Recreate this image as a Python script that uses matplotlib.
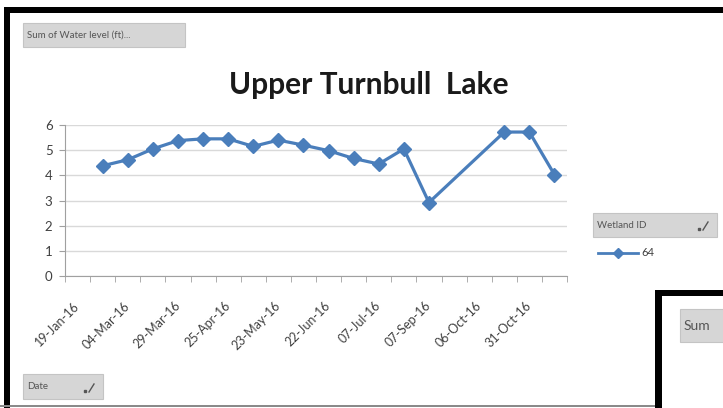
import numpy as np
import matplotlib
matplotlib.use("Agg")
import matplotlib.pyplot as plt
from matplotlib.patches import Rectangle, FancyBboxPatch
from matplotlib.lines import Line2D

# Water level readings per survey date (category axis, gaps where no reading)
tick_labels = ["19-Jan-16", "04-Mar-16", "29-Mar-16", "25-Apr-16", "23-May-16",
               "22-Jun-16", "07-Jul-16", "07-Sep-16", "06-Oct-16", "31-Oct-16"]
water_level = [np.nan, 4.38, 4.62, 5.05, 5.38, 5.45, 5.45, 5.15, 5.4, 5.2,
               4.98, 4.67, 4.45, 5.05, 2.92, np.nan, np.nan, 5.72, 5.72, 4.03]
series_name = "64"

W, H = 723, 408
BLUE = "#4a7ebb"
plt.rcParams["font.family"] = ["Lato", "DejaVu Sans"]

fig = plt.figure(figsize=(W / 100, H / 100), dpi=100)


def px(x, y, w, h):
    """pixel box (top-left origin) -> figure fraction rect"""
    return (x / W, 1 - (y + h) / H, w / W, h / H)


def add_rect(x, y, w, h, **kw):
    fx, fy, fw, fh = px(x, y, w, h)
    fig.patches.append(Rectangle((fx, fy), fw, fh, transform=fig.transFigure, **kw))


def add_button(x, y, w, h, label, size=7, icon=True):
    fx, fy, fw, fh = px(x, y, w, h)
    fig.patches.append(FancyBboxPatch((fx, fy), fw, fh, boxstyle="square,pad=0",
                                      transform=fig.transFigure, facecolor="#d6d6d6",
                                      edgecolor="#c4c4c4", linewidth=0.8))
    fig.text(fx + 4 / W, fy + fh / 2, label, fontsize=size, color="#555555",
             va="center", ha="left")
    if icon:
        ix, iy = (x + w - 14) / W, 1 - (y + h - 7) / H
        fig.add_artist(Line2D([ix, ix + 5 / W], [iy, iy + 8 / H], transform=fig.transFigure,
                              color="#555555", lw=1))
        fig.add_artist(Line2D([ix - 4 / W], [iy + 1 / H], transform=fig.transFigure,
                              color="#555555", marker="s", markersize=1.5))


# black window frames
add_rect(4, 7, W - 4, 6, facecolor="black", edgecolor="none")
add_rect(4, 7, 6, H - 7, facecolor="black", edgecolor="none")
add_rect(0, 405, 656, 2, facecolor="#8a8a8a", edgecolor="none")

# second chart peeking in at bottom right
add_rect(662, 296, W - 662, H - 296, facecolor="white", edgecolor="none")
add_rect(655, 290, W - 655, 6, facecolor="black", edgecolor="none")
add_rect(655, 290, 7, H - 290, facecolor="black", edgecolor="none")
add_button(680, 309, 50, 33, "Sum", size=10, icon=False)

ax = fig.add_axes(px(65, 125, 502, 151))
x = np.arange(len(water_level))
vals = np.array(water_level)
ok = ~np.isnan(vals)
ax.plot(x[ok], vals[ok], color=BLUE, lw=2.3, marker="D", markersize=7,
        markerfacecolor=BLUE, markeredgecolor=BLUE, zorder=3)

ax.set_xlim(-0.5, len(water_level) - 0.5)
ax.set_ylim(0, 6)
ax.set_yticks(range(7))
ax.grid(axis="y", color="#d9d9d9", lw=1)
ax.set_axisbelow(True)
for s in ["top", "right"]:
    ax.spines[s].set_visible(False)
for s in ["left", "bottom"]:
    ax.spines[s].set_color("#a0a0a0")
ax.tick_params(axis="y", length=4, color="#a0a0a0", labelsize=9.5, labelcolor="#404040", pad=5)

ax.set_xticks(x[::2], tick_labels, rotation=45, ha="right", va="center",
              rotation_mode="anchor", fontsize=9, color="#404040")
ax.set_xticks(np.arange(-0.5, len(water_level)), minor=True)
ax.tick_params(axis="x", which="major", length=0, pad=20)
ax.tick_params(axis="x", which="minor", length=4, color="#a0a0a0")

fig.text(369 / W, 1 - 85 / H, "Upper Turnbull  Lake", fontsize=21.5, fontweight="bold",
         ha="center", va="center", color="#1a1a1a")

# pivot field buttons
add_button(23, 23, 162, 24, "Sum of Water level (ft)...", icon=False)
add_button(23, 374, 80, 25, "Date")
add_button(593, 213, 124, 24, "Wetland ID")

# legend entry
ly = 1 - 253 / H
fig.add_artist(Line2D([598 / W, 638 / W], [ly, ly], transform=fig.transFigure,
                      color=BLUE, lw=2))
fig.add_artist(Line2D([618 / W], [ly], transform=fig.transFigure, color=BLUE,
                      marker="D", markersize=5))
fig.text(641 / W, ly, series_name, fontsize=8, color="#404040", va="center")

fig.savefig("out.png", dpi=100)
